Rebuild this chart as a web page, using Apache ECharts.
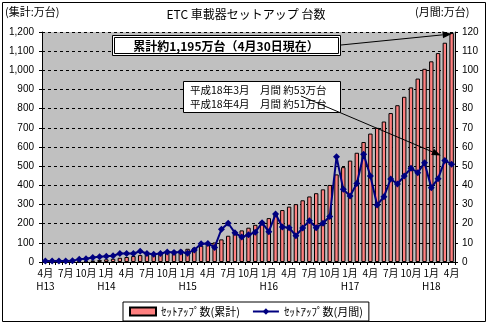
<!DOCTYPE html>
<html>
<head>
<meta charset="utf-8">
<script src="https://cdn.jsdelivr.net/npm/echarts@6/dist/echarts.min.js"></script>
<style>
  html, body { margin: 0; padding: 0; background: #fff; }
  #chart { width: 489px; height: 326px; }
</style>
</head>
<body>
<div id="chart"></div>
<script>
// Months from April H13 to April H18
const months = [
  '4月','5月','6月','7月','8月','9月','10月','11月','12月',
  '1月','2月','3月','4月','5月','6月','7月','8月','9月','10月','11月','12月',
  '1月','2月','3月','4月','5月','6月','7月','8月','9月','10月','11月','12月',
  '1月','2月','3月','4月','5月','6月','7月','8月','9月','10月','11月','12月',
  '1月','2月','3月','4月','5月','6月','7月','8月','9月','10月','11月','12月',
  '1月','2月','3月','4月'
];
// Era year shown under the month label at these category positions
const eraLabels = { 0: 'H13', 9: 'H14', 21: 'H15', 33: 'H16', 45: 'H17', 57: 'H18' };

// Cumulative setups (万台)
const cumulative = [
  0.5, 1, 1.5, 2, 2.6, 4, 6, 8, 11,
  14, 17, 22, 26, 31, 36, 41, 45, 49, 54, 59, 64,
  69, 75, 85, 94, 102, 118, 137, 152, 165, 179, 194, 214,
  229, 253, 271, 289, 302, 322, 342, 359, 379, 402, 457, 495,
  529, 570, 626, 670, 700, 733, 777, 818, 862, 911, 957, 1008,
  1047, 1090, 1144, 1195
];
// Monthly setups (万台)
const monthly = [
  0.5, 0.5, 0.5, 0.5, 0.6, 1.5, 1.7, 2.3, 2.8,
  3.0, 3.3, 4.4, 4.4, 4.4, 5.6, 4.4, 4.0, 4.4, 5.2, 5.0, 5.2,
  4.6, 6.3, 9.5, 9.7, 7.6, 17.1, 20.2, 15.2, 13.0, 14.2, 15.5, 20.5,
  15.8, 25.0, 18.3, 17.9, 13.7, 17.8, 21.5, 17.9, 20.2, 23.7, 54.9, 37.9,
  34.4, 41.0, 56.2, 44.9, 29.7, 34.1, 43.3, 40.7, 44.9, 48.9, 46.6, 51.8,
  38.8, 43.5, 53, 51
];

const JP = '"Noto Sans CJK JP", "Noto Sans", sans-serif';
const NUM = '"Liberation Sans", Arial, sans-serif';

const chart = echarts.init(document.getElementById('chart'), null, { renderer: 'canvas' });

chart.setOption({
  animation: false,
  backgroundColor: '#fff',
  grid: {
    left: 42, right: 34, top: 32, bottom: 64,
    show: true, backgroundColor: '#c0c0c0', borderWidth: 0
  },
  legend: {
    left: 123, top: 302,
    padding: [4, 6],
    itemGap: 12,
    itemWidth: 26, itemHeight: 8,
    borderColor: '#000', borderWidth: 1,
    backgroundColor: '#fff',
    textStyle: { fontFamily: JP, fontSize: 11, color: '#000' },
    data: [
      { name: 'ｾｯﾄｱｯﾌﾟ数(累計)', icon: 'rect' },
      { name: 'ｾｯﾄｱｯﾌﾟ数(月間)' }
    ]
  },
  xAxis: {
    type: 'category',
    data: months,
    boundaryGap: true,
    axisLine: { lineStyle: { color: '#000', width: 1 } },
    axisTick: { show: true, interval: 0, length: 3, lineStyle: { color: '#000' } },
    axisLabel: {
      interval: (idx) => idx % 3 === 0,
      formatter: (val, idx) => eraLabels[idx] ? val + '\n' + eraLabels[idx] : val,
      fontFamily: JP, fontSize: 10, color: '#000',
      lineHeight: 13, margin: 5
    },
    splitLine: { show: false }
  },
  yAxis: [
    {
      type: 'value', min: 0, max: 1200, interval: 100,
      axisLine: { show: true, lineStyle: { color: '#000' } },
      axisTick: { show: true, length: 3, lineStyle: { color: '#000' } },
      axisLabel: {
        formatter: (v) => v.toLocaleString('en-US'),
        fontFamily: NUM, fontSize: 10, color: '#000', margin: 8
      },
      splitLine: { show: true, lineStyle: { color: '#000', type: [3, 3], width: 1 } }
    },
    {
      type: 'value', min: 0, max: 120, interval: 10,
      axisLine: { show: true, lineStyle: { color: '#000' } },
      axisTick: { show: true, length: 3, lineStyle: { color: '#000' } },
      axisLabel: { fontFamily: NUM, fontSize: 10, color: '#000', margin: 7 },
      splitLine: { show: false }
    }
  ],
  series: [
    {
      name: 'ｾｯﾄｱｯﾌﾟ数(累計)',
      type: 'bar',
      yAxisIndex: 0,
      data: cumulative,
      barCategoryGap: '35%',
      itemStyle: { color: '#ff8080', borderColor: '#000', borderWidth: 1 }
    },
    {
      name: 'ｾｯﾄｱｯﾌﾟ数(月間)',
      type: 'line',
      yAxisIndex: 1,
      data: monthly,
      symbol: 'diamond',
      symbolSize: 7,
      showAllSymbol: true,
      lineStyle: { color: '#000080', width: 2 },
      itemStyle: { color: '#000080' }
    }
  ]
});

// Arrow (line + filled head) from one point to another
function arrow(x1, y1, x2, y2) {
  const ang = Math.atan2(y2 - y1, x2 - x1);
  const L = 9, W = 3.5;
  const bx = x2 - L * Math.cos(ang), by = y2 - L * Math.sin(ang);
  const px = -Math.sin(ang) * W, py = Math.cos(ang) * W;
  return [
    { type: 'line', shape: { x1: x1, y1: y1, x2: bx, y2: by }, style: { stroke: '#000', lineWidth: 1 }, z: 20 },
    { type: 'polygon', shape: { points: [[x2, y2], [bx + px, by + py], [bx - px, by - py]] }, style: { fill: '#000' }, z: 20 }
  ];
}

const last = months.length - 1;
const topLast = chart.convertToPixel({ xAxisIndex: 0, yAxisIndex: 0 }, [last, cumulative[last]]);
const marMonth = chart.convertToPixel({ xAxisIndex: 0, yAxisIndex: 1 }, [last - 1, monthly[last - 1]]);

chart.setOption({
  graphic: [
    // outer frame
    { type: 'rect', shape: { x: 2.5, y: 2.5, width: 483, height: 319 }, style: { fill: null, stroke: '#000', lineWidth: 1 }, z: 0 },
    { type: 'text', left: 5, top: 6, style: { text: '(集計:万台)', font: '11px ' + JP, fill: '#000' } },
    { type: 'text', left: 415, top: 6, style: { text: '(月間:万台)', font: '11px ' + JP, fill: '#000' } },
    { type: 'text', x: 246, y: 14, style: { text: 'ETC 車載器セットアップ 台数', font: '12px ' + JP, fill: '#000', align: 'center', verticalAlign: 'middle' } },
    // cumulative total box
    { type: 'rect', shape: { x: 112.5, y: 35.5, width: 228, height: 20 }, style: { fill: '#fff', stroke: '#000', lineWidth: 1 }, z: 15 },
    { type: 'rect', shape: { x: 114.5, y: 37.5, width: 224, height: 16 }, style: { fill: null, stroke: '#000', lineWidth: 1 }, z: 16 },
    { type: 'text', x: 226, y: 46, style: { text: '累計約1,195万台（4月30日現在）', font: 'bold 12px ' + JP, fill: '#000', align: 'center', verticalAlign: 'middle' }, z: 17 },
    ...arrow(341, 45, topLast[0], topLast[1] + 1),
    // monthly note box
    { type: 'rect', shape: { x: 183.5, y: 81.5, width: 157, height: 31 }, style: { fill: '#fff', stroke: '#000', lineWidth: 1 }, z: 15 },
    { type: 'text', x: 190, y: 90, style: { text: '平成18年3月　月間 約53万台', font: '10.5px ' + JP, fill: '#000', verticalAlign: 'middle' }, z: 17 },
    { type: 'text', x: 190, y: 104, style: { text: '平成18年4月　月間 約51万台', font: '10.5px ' + JP, fill: '#000', verticalAlign: 'middle' }, z: 17 },
    ...arrow(301, 96, marMonth[0] - 4, marMonth[1] - 5)
  ]
});
</script>
</body>
</html>
